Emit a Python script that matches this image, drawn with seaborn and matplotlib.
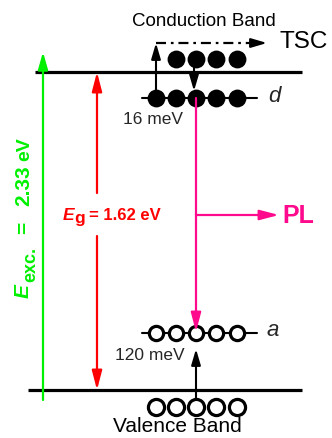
import numpy as np
import pandas as pd
import matplotlib
matplotlib.use("Agg")
import matplotlib.pyplot as plt
import seaborn as sns

# Energies written on the diagram
gap_eV = 1.62
excitation_eV = 2.33
d_depth_meV = 16
a_depth_meV = 120

# Occupancy of the five sites on each level (1 = carrier present)
cb_electrons = [0, 1, 1, 1, 1]
d_electrons = [1, 1, 1, 1, 1]
a_holes = [1, 1, 1, 1, 1]
vb_holes = [1, 1, 1, 1, 1]

# Labels
band_labels = ["Conduction Band", "Valence Band"]
level_labels = ["d", "a"]
process_labels = ["TSC", "PL"]

sns.set_theme(style="white")
plt.rcParams["font.family"] = ["Liberation Sans", "DejaVu Sans"]

GREEN = "#00F000"
RED = "#FF0000"
PINK = "#FF0A8C"

# Schematic layout (pixel units, y grows downward)
W, H = 332, 438
Y_CB, Y_VB = 72, 390
Y_CBDOT, Y_D, Y_A, Y_VBDOT = 59, 98, 333, 407
Y_TSC, Y_PL = 43, 215
SITE_X = np.array([156, 176, 196, 216, 237])
X_GREEN, X_RED = 43, 97

fig = plt.figure(figsize=(W / 100, H / 100), dpi=100)
ax = fig.add_axes([0, 0, 1, 1])

# Band edges
ax.plot([35, 302], [Y_CB, Y_CB], color="black", lw=2.3, solid_capstyle="butt", zorder=2)
ax.plot([28, 302], [Y_VB, Y_VB], color="black", lw=2.3, solid_capstyle="butt", zorder=2)
# Trap levels
ax.plot([142, 257], [Y_D, Y_D], color="black", lw=1.5, zorder=2)
ax.plot([142, 257], [Y_A, Y_A], color="black", lw=1.5, zorder=2)


def arrow(p0, p1, color, lw=1.5, hl=1.05, hw=0.3, z=3):
    ax.annotate("", xy=p1, xytext=p0,
                arrowprops=dict(arrowstyle=f"-|>,head_length={hl},head_width={hw}",
                                color=color, lw=lw, shrinkA=0, shrinkB=0,
                                mutation_scale=10),
                zorder=z)


# Excitation and band gap
arrow((X_GREEN, 400), (X_GREEN, 52), GREEN, lw=1.6)
arrow((X_RED, 193), (X_RED, Y_CB), RED, lw=1.6, hl=1.15)
arrow((X_RED, 236), (X_RED, Y_VB), RED, lw=1.6, hl=1.15)

# Thermal release from d to the conduction band and TSC path
arrow((SITE_X[0], Y_D), (SITE_X[0], Y_TSC), "black", lw=1.5, hl=0.95, hw=0.28)
ax.plot([SITE_X[0], 258], [Y_TSC, Y_TSC], color="black", lw=1.6,
        linestyle=(0, (4.5, 2.2, 1.2, 2.2)), zorder=3)
arrow((255, Y_TSC), (267, Y_TSC), "black", lw=1.5, hl=0.95, hw=0.28)

# Capture from the conduction band into d
arrow((SITE_X[2] - 2, Y_CBDOT), (SITE_X[2] - 2, 91), "black", lw=1.5, hl=0.95, hw=0.28)

# Recombination d -> a (PL)
arrow((SITE_X[2], Y_D), (SITE_X[2], Y_A - 1), PINK, lw=1.6, hl=1.15, z=5)
arrow((SITE_X[2], Y_PL), (279, Y_PL), PINK, lw=1.6, hl=1.15)

# Hole excitation from the valence band into a
arrow((SITE_X[2], Y_VBDOT), (SITE_X[2], 349), "black", lw=1.5, hl=0.95, hw=0.28)

# Carriers
rows = []
for occ, y, kind in [(cb_electrons, Y_CBDOT, "electron"), (d_electrons, Y_D, "electron"),
                     (a_holes, Y_A, "hole_a"), (vb_holes, Y_VBDOT, "hole_vb")]:
    for x, o in zip(SITE_X, occ):
        if o:
            rows.append({"x": x, "y": y, "kind": kind})
carriers = pd.DataFrame(rows)

marker_style = {"electron": (165, "black", 0.0),
                "hole_a": (105, "white", 2.3),
                "hole_vb": (135, "white", 2.3)}
for kind, (size, face, edge_w) in marker_style.items():
    sns.scatterplot(data=carriers[carriers.kind == kind], x="x", y="y",
                    s=size, color=face, edgecolor="black", linewidth=edge_w,
                    ax=ax, zorder=4, legend=False)
    pts = ax.collections[-1]
    pts.set_sizes([size])
    pts.set_linewidth(edge_w)
    pts.set_edgecolor("black")
    pts.set_facecolor(face)

ax.set_xlim(0, W)
ax.set_ylim(H, 0)
ax.set_xlabel("")
ax.set_ylabel("")
ax.axis("off")

# Plain labels
ax.text(204, 21, band_labels[0], fontsize=13.5, ha="center", va="center", color="black")
ax.text(177, 427, band_labels[1], fontsize=15, ha="center", va="center", color="black")
ax.text(304, 42, process_labels[0], fontsize=17.5, ha="center", va="center", color="black")
ax.text(274, 97, level_labels[0], fontsize=16, style="italic", ha="center", va="center")
ax.text(273, 331, level_labels[1], fontsize=16, style="italic", ha="center", va="center")
ax.text(153, 120, f"{d_depth_meV} meV", fontsize=12.5, ha="center", va="center")
ax.text(150, 355, f"{a_depth_meV} meV", fontsize=12.5, ha="center", va="center")
ax.text(298, 216, process_labels[1], fontsize=18, fontweight="bold", color=PINK,
        ha="center", va="center")

# Band-gap label: italic E with a large subscript g
red_kw = dict(color=RED, fontweight="bold", ha="left", va="baseline")
ax.text(63, 220, "E", fontsize=12.5, style="italic", **red_kw)
ax.text(74.5, 223.5, "g", fontsize=12.5, **red_kw)
ax.text(89, 220, f"= {gap_eV:.2f} eV", fontsize=12, **red_kw)

# Excitation energy label, read bottom to top
green_kw = dict(color=GREEN, fontweight="bold", rotation=90, rotation_mode="anchor",
                ha="left", va="baseline")
ax.text(29, 298, "E", fontsize=15, style="italic", **green_kw)
ax.text(35, 282, "exc.", fontsize=13, **green_kw)
ax.text(29, 234, "=", fontsize=15, **green_kw)
ax.text(29, 206, f"{excitation_eV:.2f}", fontsize=15, **green_kw)
ax.text(29, 161, "eV", fontsize=14, **green_kw)

fig.savefig("out.png", dpi=100)
